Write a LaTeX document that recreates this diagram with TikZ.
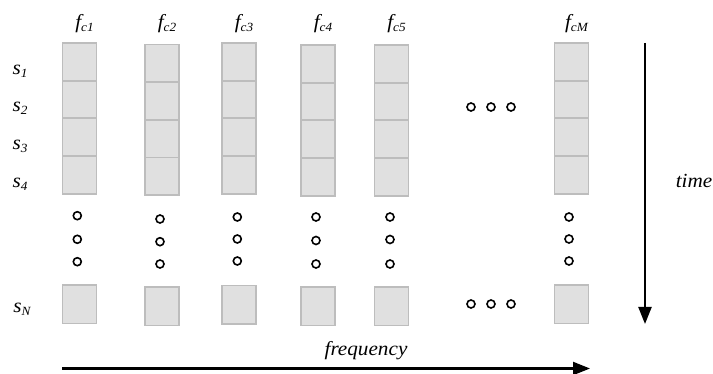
\documentclass[tikz,border=0pt]{standalone}
\usepackage{fontspec}
\setmainfont{Liberation Serif}
\usetikzlibrary{arrows.meta}
\definecolor{cellfill}{HTML}{E0E0E0}
\definecolor{cellline}{HTML}{BDBDBD}
% italic lettering used for all labels
\newcommand{\widetxt}[1]{\scalebox{1.06}[1]{\fontsize{20}{22}\selectfont\itshape #1}}
\newcommand{\subtxt}[1]{\raisebox{-3pt}{\fontsize{12.5}{14}\selectfont\itshape #1}}
\tikzset{
  cell/.style={draw=cellline, fill=cellfill, line width=1.8pt, inner sep=0pt,
               minimum width=34pt, minimum height=37.7pt},
  endcell/.style={cell, minimum height=38.5pt},
  ring/.style={circle, draw=black, line width=1.6pt, minimum size=8pt, inner sep=0pt},
  lbl/.style={inner sep=0pt},
  axis/.style={line width=2.2pt, -{Triangle[length=17pt,width=13pt]}},
}
\begin{document}
\begin{tikzpicture}[x=1pt,y=-1pt]
\useasboundingbox (0,0) rectangle (713,374);

% frequency columns: centre x, top y, label, bottom block top y
\foreach \n/\cx/\top/\lab/\btop in {1/79.5/43/1/285, 2/162/44.5/2/287, 3/239/43/3/285.5,
                                    4/318/45/4/287, 5/391.5/45/5/287, M/571.5/43/M/285}{
  \node[lbl] (f\n) at (\cx+5, 24) {\widetxt{f\subtxt{c\lab}}};
  \foreach \r in {1,...,4}{
    \node[cell] (c\n r\r) at (\cx, {\top + 37.7*(\r-0.5)}) {};
  }
  \node[endcell] (c\n rN) at (\cx, {\btop + 19.25}) {};
}

% vertical ellipses between row 4 and row N
\foreach \n/\dx/\da/\db/\dc in {1/77.3/215.7/239.3/261.7, 2/160/219/241.7/264,
                                 3/237.3/217/239/261, 4/316/217/240.5/264,
                                 5/390/217/239.5/264, M/569/217/239/261}{
  \node[ring] (v\n a) at (\dx,\da) {};
  \node[ring] (v\n b) at (\dx,\db) {};
  \node[ring] (v\n c) at (\dx,\dc) {};
}

% horizontal ellipses between column 5 and column M
\foreach \k/\hx in {1/471, 2/491, 3/511}{
  \node[ring] (hu\k) at (\hx,107) {};
  \node[ring] (hd\k) at (\hx,304) {};
}

% row labels
\node[lbl] (s1) at (20,71) {\widetxt{s\subtxt{1}}};
\node[lbl] (s2) at (20,108) {\widetxt{s\subtxt{2}}};
\node[lbl] (s3) at (20,146) {\widetxt{s\subtxt{3}}};
\node[lbl] (s4) at (20,184) {\widetxt{s\subtxt{4}}};
\node[lbl] (sN) at (22,309) {\widetxt{s\subtxt{N}}};

% axes
\coordinate (tstart) at (645,43);
\coordinate (tend) at (645,324);
\draw[axis] (tstart) -- (tend);
\node[lbl] (time) at (694,181) {\widetxt{time}};

\coordinate (fstart) at (62,368.5);
\coordinate (fend) at (590,368.5);
\draw[axis] (fstart) -- (fend);
\node[lbl] (freq) at (366,351) {\widetxt{frequency}};
\end{tikzpicture}
\end{document}
